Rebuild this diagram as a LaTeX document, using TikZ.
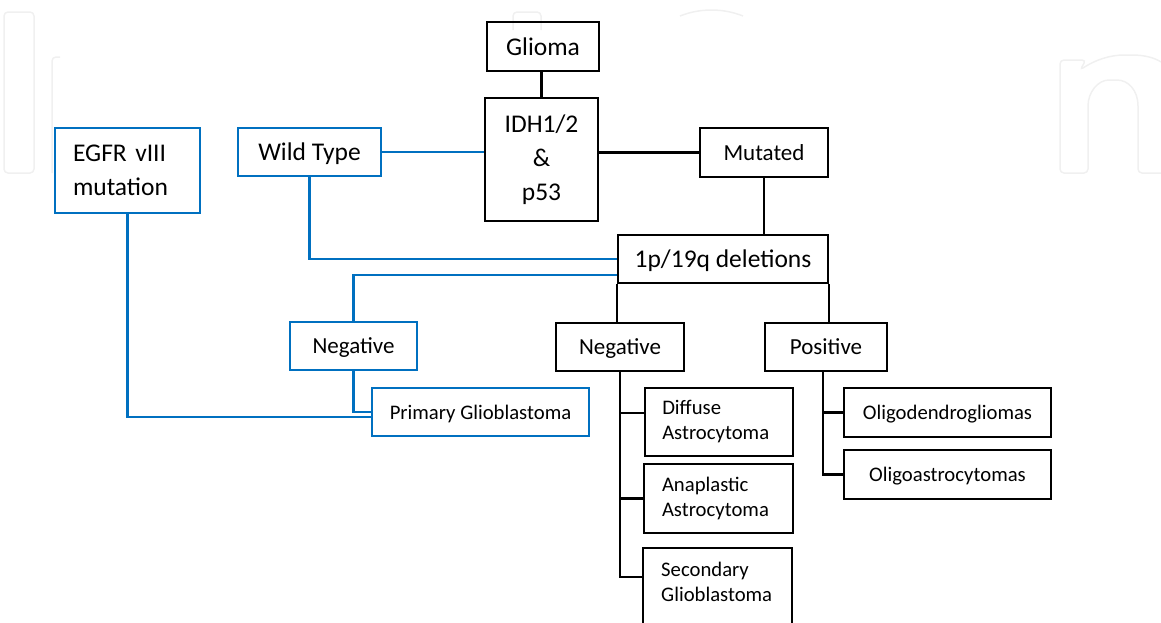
\documentclass[tikz,border=0pt]{standalone}
\usepackage{fontspec}
\setmainfont{Carlito}
\definecolor{lblue}{RGB}{0,112,192}
\tikzset{
 box/.style={draw=black, line width=2pt, rectangle, inner sep=0pt, align=center},
 bbox/.style={box, draw=lblue},
 sl/.style={text depth=0pt},
 lk/.style={line width=2.2pt, draw=black},
 blk/.style={line width=2.2pt, draw=lblue},
 fL/.style={font=\fontsize{25.5}{34}\selectfont},
 fM/.style={font=\fontsize{23}{28}\selectfont},
 fS/.style={font=\fontsize{20.7}{25}\selectfont},
 wm/.style={draw=black!6, line width=1.5pt, rounded corners=4pt}
}
\begin{document}
\begin{tikzpicture}[x=1pt,y=-1pt]
\useasboundingbox (0,0) rectangle (1161,622);
\clip (0,0) rectangle (1161,622);
% faint watermark
\draw[wm] (4,12) rectangle (34,173);
\draw[wm] (52,173) -- (52,57) -- (60,57);
\draw[wm] (513,30) -- (513,12) -- (541,12) -- (541,30);
\draw[wm] (680,16) .. controls (700,8) and (723,8) .. (743,16);
\draw[wm] (1161,173) -- (1138,173) -- (1138,110) .. controls (1138,90) and (1128,80) .. (1113,80) .. controls (1098,80) and (1088,92) .. (1088,110) -- (1088,173) -- (1060,173) -- (1060,60) -- (1086,60) -- (1080,70) .. controls (1095,60) and (1110,55) .. (1128,55) .. controls (1145,55) and (1155,58) .. (1161,62);

% nodes
\node[box,sl,fL,minimum width=112pt,minimum height=49pt] (glioma) at (543,46.5) {Glioma};
\node[box,fL,minimum width=113pt,minimum height=123pt] (idh) at (541.5,159.5) {IDH1/2\\\&\\p53};
\node[bbox,fL,align=left,text width=109pt,minimum width=145pt,minimum height=85pt] (egfr) at (127.5,170.5) {EGFR vIII\\mutation};
\node[bbox,sl,fL,minimum width=143pt,minimum height=48pt] (wt) at (309.5,152) {Wild Type};
\node[box,sl,fM,minimum width=128pt,minimum height=49pt] (mut) at (764,152.5) {Mutated};
\node[box,sl,fL,minimum width=210pt,minimum height=48pt] (p1) at (723,259) {1p/19q deletions};
\node[bbox,sl,fM,minimum width=127pt,minimum height=48pt] (bneg) at (353.5,346) {Negative};
\node[box,sl,fM,minimum width=128pt,minimum height=48pt] (neg) at (620,346.5) {Negative};
\node[box,sl,fM,minimum width=122pt,minimum height=48pt] (pos) at (826,347) {Positive};
\node[bbox,sl,fS,minimum width=217pt,minimum height=48pt] (pg) at (480.5,412) {Primary Glioblastoma};
\node[box,fS,align=left,text width=113pt,minimum width=148.5pt,minimum height=68pt] (diff) at (718.75,422) {Diffuse\\Astrocytoma};
\node[box,fS,align=left,text width=113pt,minimum width=149pt,minimum height=69pt] (ana) at (718.5,498.5) {Anaplastic\\Astrocytoma};
\node[box,minimum width=149pt,minimum height=100pt,anchor=north] (sec) at (717.5,547) {};
\node[fS,align=left,anchor=west,inner sep=0pt] (secT) at (661,581.5) {Secondary\\Glioblastoma};
\node[box,sl,fS,minimum width=207pt,minimum height=49pt] (oligod) at (947.5,412.5) {Oligodendrogliomas};
\node[box,sl,fS,minimum width=207pt,minimum height=49pt] (oligoa) at (947.5,474.5) {Oligoastrocytomas};

% black connectors
\draw[lk] (idh.north) -- (idh.north |- glioma.south);
\draw[lk] (idh.east |- mut.west) -- (mut.west);
\draw[lk] (mut.south) -- (mut.south |- p1.north);
\draw[lk] (p1.south west) -- (p1.south west |- neg.north);
\draw[lk] (p1.south east) -- (p1.south east |- pos.north);
\coordinate (dj) at ([yshift=9pt]diff.west);
\coordinate (secJ) at ([yshift=-30pt]sec.north west);
\draw[lk] (neg.south) |- (secJ);
\draw[lk] (neg.south |- dj) -- (dj);
\draw[lk] (neg.south |- ana.west) -- (ana.west);
\coordinate (pj) at ([xshift=-3pt]pos.south);
\draw[lk] (pj) |- (oligoa.west);
\draw[lk] (pj |- oligod.west) -- (oligod.west);

% blue connectors
\draw[blk] (wt.east) -- (wt.east -| idh.west);
\draw[blk] (wt.south) |- (p1.west);
\coordinate (p1n) at ([yshift=-16pt]p1.west);
\draw[blk] (p1n) -| (bneg.north);
\draw[blk] (bneg.south) |- (pg.west);
\coordinate (pgj) at ([yshift=-5pt]pg.west);
\draw[blk] (egfr.south) |- (pgj);
\end{tikzpicture}
\end{document}
